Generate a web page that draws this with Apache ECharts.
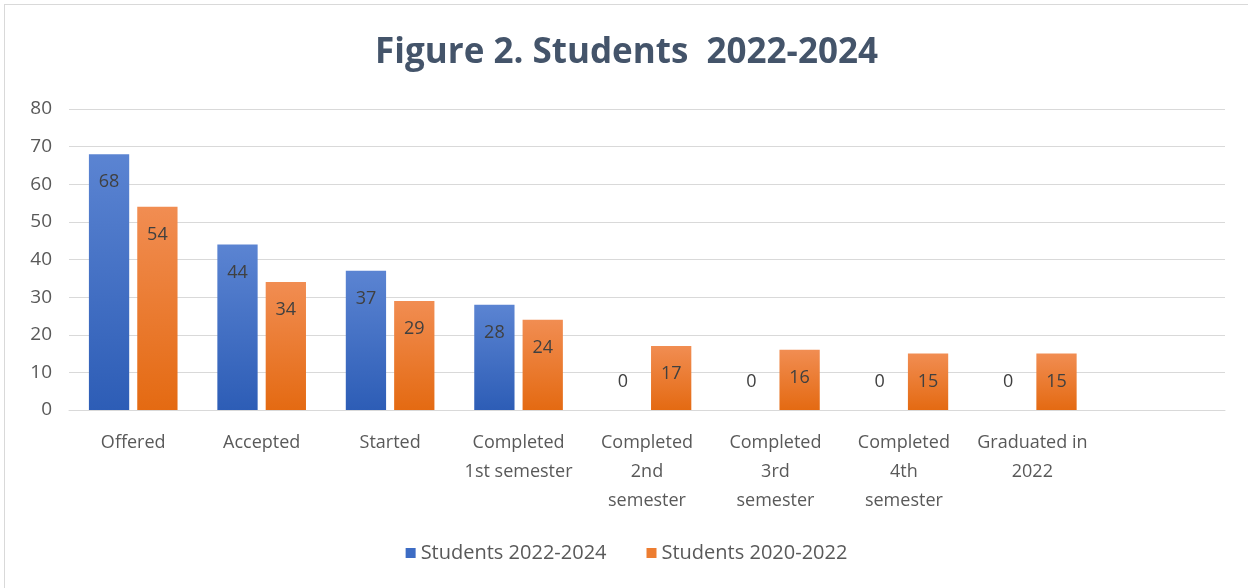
<!DOCTYPE html>
<html>
<head>
<meta charset="utf-8">
<script src="https://cdn.jsdelivr.net/npm/echarts@6/dist/echarts.min.js"></script>
<style>
  html, body { margin: 0; padding: 0; background: #fff; }
  #chart {
    position: absolute; left: 4px; top: 4px;
    width: 1244px; height: 584px;
    border-left: 1px solid #d9d9d9; border-top: 1px solid #d9d9d9;
    box-sizing: border-box;
  }
</style>
</head>
<body>
<div id="chart"></div>
<script>
// categories (last slot is empty in the original)
var categories = [
  "Offered", "Accepted", "Started", "Completed\n1st semester",
  "Completed\n2nd\nsemester", "Completed\n3rd\nsemester",
  "Completed\n4th\nsemester", "Graduated in\n2022", ""
];
var students2022 = [68, 44, 37, 28, 0, 0, 0, 0, null];
var students2020 = [54, 34, 29, 24, 17, 16, 15, 15, null];
var yTicks = [0, 10, 20, 30, 40, 50, 60, 70, 80];

var FONT = "'Open Sans', 'Noto Sans', sans-serif";
var blueGrad = new echarts.graphic.LinearGradient(0, 0, 0, 1, [
  { offset: 0, color: "#5b84d2" }, { offset: 1, color: "#2d5db6" }
]);
var orangeGrad = new echarts.graphic.LinearGradient(0, 0, 0, 1, [
  { offset: 0, color: "#f18d52" }, { offset: 1, color: "#e46a12" }
]);

// zero bars: label sits above the axis like the original
function withLabels(arr) {
  return arr.map(function (v) {
    if (v === 0) {
      return { value: v, label: { position: "top", distance: 19 } };
    }
    return v;
  });
}

var barLabel = {
  show: true,
  position: "insideTop",
  distance: 19,
  fontFamily: FONT,
  fontSize: 18,
  color: "#404040"
};

var chart = echarts.init(document.getElementById("chart"));
chart.setOption({
  animation: false,
  title: {
    text: "Figure 2. Students  2022-2024",
    left: "center",
    top: 26,
    textStyle: { fontFamily: FONT, fontSize: 35, fontWeight: "bold", color: "#44546a" }
  },
  legend: {
    bottom: 20,
    left: "center",
    itemWidth: 10,
    itemHeight: 10,
    itemGap: 40,
    icon: "rect",
    textStyle: { fontFamily: FONT, fontSize: 20, color: "#595959" },
    data: [
      { name: "Students 2022-2024", itemStyle: { color: "#3d6cc4" } },
      { name: "Students 2020-2022", itemStyle: { color: "#ed7d31" } }
    ]
  },
  grid: { left: 64, right: 23, top: 104, bottom: 178 },
  xAxis: {
    type: "category",
    data: categories,
    axisLine: { lineStyle: { color: "#d9d9d9" } },
    axisTick: { show: false },
    axisLabel: {
      interval: 0,
      margin: 18,
      fontFamily: FONT,
      fontSize: 18,
      lineHeight: 29,
      color: "#595959"
    }
  },
  yAxis: {
    type: "value",
    min: yTicks[0],
    max: yTicks[yTicks.length - 1],
    interval: 10,
    axisLine: { show: false },
    axisTick: { show: false },
    splitLine: { lineStyle: { color: "#d9d9d9" } },
    axisLabel: { fontFamily: FONT, fontSize: 19, color: "#595959", margin: 17 }
  },
  series: [
    {
      name: "Students 2022-2024",
      type: "bar",
      data: withLabels(students2022),
      barGap: "20%",
      barCategoryGap: "31%",
      itemStyle: { color: blueGrad },
      label: barLabel
    },
    {
      name: "Students 2020-2022",
      type: "bar",
      data: withLabels(students2020),
      itemStyle: { color: orangeGrad },
      label: barLabel
    }
  ]
});
</script>
</body>
</html>
